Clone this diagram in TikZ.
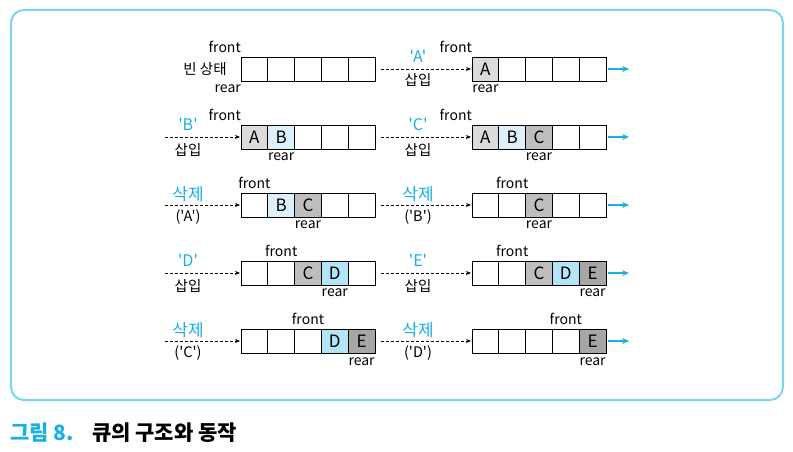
\documentclass[tikz,border=0pt]{standalone}
\usepackage{fontspec}
\setmainfont{Noto Sans CJK KR}[Ligatures=TeXOff]
\usepackage{tikz}
\usetikzlibrary{positioning}
\usetikzlibrary{arrows.meta}
\definecolor{NiceBlue}{HTML}{1AAFE6}
\definecolor{FrameBlue}{HTML}{7AD5F5}
\definecolor{CellA}{HTML}{DCDCDC}
\definecolor{CellB}{HTML}{DDF0FB}
\definecolor{CellC}{HTML}{BEBEBE}
\definecolor{CellD}{HTML}{B3E4F8}
\definecolor{CellE}{HTML}{A6A6A6}

\tikzset{
  cell/.style={draw, line width=0.8pt, minimum width=26.8pt, minimum height=24pt,
    inner sep=0pt, outer sep=0pt, font=\fontsize{17}{17}\selectfont},
  ptr/.style={font=\fontsize{14}{14}\selectfont, inner sep=1pt},
  kor/.style={font=\fontsize{14.5}{14.5}\selectfont, inner sep=1pt},
  hilite/.style={NiceBlue, font=\fontsize{16}{16}\selectfont, inner sep=1pt},
  delop/.style={NiceBlue, font=\fontsize{17}{17}\selectfont, inner sep=1pt},
  feed/.style={line width=0.7pt, dash pattern=on 3pt off 2pt, shorten >=1pt,
    -{Stealth[length=5pt,width=4pt]}},
  outarrow/.style={NiceBlue, line width=1.2pt, shorten <=2pt,
    -{Stealth[length=7pt,width=6pt]}}
}

\newcommand{\queuerow}[4]{%
  \foreach \f/\t [count=\i] in {#4}
    \node[cell, fill=\f] (#1c\i) at ({#2+(\i-0.5)*26.8}, #3) {\t};
}

\begin{document}
\begin{tikzpicture}[x=1pt, y=-1pt]
    \useasboundingbox (0,0) rectangle (793,452);
    \draw[FrameBlue, line width=2pt, rounded corners=13pt] (11,10) rectangle (783,400);

    \queuerow{L1}{241}{69}{white/, white/, white/, white/, white/}
    \queuerow{R1}{472}{69}{CellA/A, white/, white/, white/, white/}
    \queuerow{L2}{241}{137}{CellA/A, CellB/B, white/, white/, white/}
    \queuerow{R2}{472}{137}{CellA/A, CellB/B, CellC/C, white/, white/}
    \queuerow{L3}{241}{205}{white/, CellB/B, CellC/C, white/, white/}
    \queuerow{R3}{472}{205}{white/, white/, CellC/C, white/, white/}
    \queuerow{L4}{241}{273}{white/, white/, CellC/C, CellD/D, white/}
    \queuerow{R4}{472}{273}{white/, white/, CellC/C, CellD/D, CellE/E}
    \queuerow{L5}{241}{341}{white/, white/, white/, CellD/D, CellE/E}
    \queuerow{R5}{472}{341}{white/, white/, white/, white/, CellE/E}

    \foreach \r/\y in {2/137, 3/205, 4/273, 5/341} {
      \coordinate (L\r in) at (165,\y);
      \draw[feed] (L\r in) -- (L\r c1);
    }
    \foreach \r/\y in {1/69, 2/137, 3/205, 4/273, 5/341} {
      \coordinate (R\r in) at (381,\y);
      \draw[feed] (R\r in) -- (R\r c1);
      \coordinate (R\r out) at (629,\y);
      \draw[outarrow] (R\r c5) -- (R\r out);
    }

    \node[kor] (L1t) at (205,69) {빈 상태};
    \node[ptr, above left=3pt and -1pt of L1c1.north west] (L1f) {front};
    \node[ptr, below left=3pt and -1pt of L1c1.south west] (L1r) {rear};
    \node[hilite] (R1a) at (418,56) {'A'};
    \node[kor] (R1b) at (418,80) {삽입};
    \node[ptr, above left=3pt and -1pt of R1c1.north west] (R1f) {front};
    \node[ptr, below=3pt of R1c1] (R1r) {rear};

    \node[hilite] (L2a) at (188,124) {'B'};
    \node[kor] (L2b) at (188,150) {삽입};
    \node[ptr, above left=3pt and -1pt of L2c1.north west] (L2f) {front};
    \node[ptr, below=3pt of L2c2] (L2r) {rear};
    \node[hilite] (R2a) at (418,124) {'C'};
    \node[kor] (R2b) at (418,150) {삽입};
    \node[ptr, above left=3pt and -1pt of R2c1.north west] (R2f) {front};
    \node[ptr, below=3pt of R2c3] (R2r) {rear};

    \node[delop] (L3a) at (188,194) {삭제};
    \node[kor] (L3b) at (188,217) {('A')};
    \node[ptr, above=3pt of L3c1] (L3f) {front};
    \node[ptr, below=3pt of L3c3] (L3r) {rear};
    \node[delop] (R3a) at (418,194) {삭제};
    \node[kor] (R3b) at (418,217) {('B')};
    \node[ptr, above=3pt of R3c2] (R3f) {front};
    \node[ptr, below=3pt of R3c3] (R3r) {rear};

    \node[hilite] (L4a) at (188,260) {'D'};
    \node[kor] (L4b) at (188,286) {삽입};
    \node[ptr, above=3pt of L4c2] (L4f) {front};
    \node[ptr, below=3pt of L4c4] (L4r) {rear};
    \node[hilite] (R4a) at (418,260) {'E'};
    \node[kor] (R4b) at (418,286) {삽입};
    \node[ptr, above=3pt of R4c2] (R4f) {front};
    \node[ptr, below=3pt of R4c5] (R4r) {rear};

    \node[delop] (L5a) at (188,330) {삭제};
    \node[kor] (L5b) at (188,353) {('C')};
    \node[ptr, above=3pt of L5c3] (L5f) {front};
    \node[ptr, below=3pt of L5c5] (L5r) {rear};
    \node[delop] (R5a) at (418,330) {삭제};
    \node[kor] (R5b) at (418,353) {('D')};
    \node[ptr, above=3pt of R5c4] (R5f) {front};
    \node[ptr, below=3pt of R5c5] (R5r) {rear};

    \node[NiceBlue, anchor=west, inner sep=0pt, font=\fontsize{21}{21}\selectfont\bfseries] (cap1) at (10,433) {그림 8.};
    \node[anchor=west, inner sep=0pt, font=\fontsize{21}{21}\selectfont\bfseries] (cap2) at (92,433) {큐의 구조와 동작};
  \end{tikzpicture}
\end{document}
